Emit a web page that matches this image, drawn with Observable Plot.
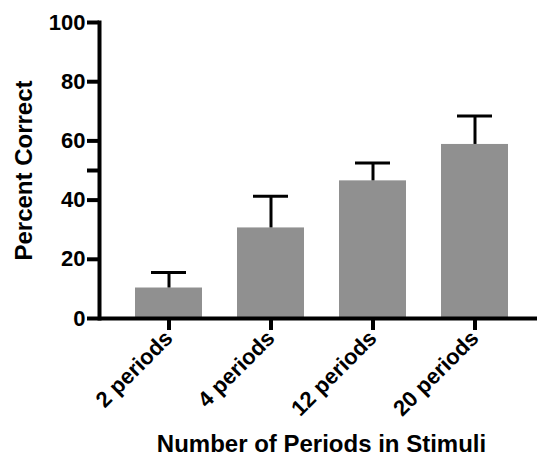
<!DOCTYPE html>
<html><head><meta charset="utf-8">
<script src="https://cdn.jsdelivr.net/npm/d3@7"></script>
<script src="https://cdn.jsdelivr.net/npm/@observablehq/plot@0.6"></script>
<style>body{margin:0;background:#fff}</style>
</head><body><div id="chart"></div>
<script>
const categories = ["2 periods", "4 periods", "12 periods", "20 periods"];
const means = [10.3, 30.6, 46.5, 58.8];
const errors = [5.2, 10.7, 6.0, 9.6];
const yTicks = [0, 20, 40, 50, 60, 80, 100];
const xTitle = "Number of Periods in Stimuli";
const yTitle = "Percent Correct";

const data = categories.map((c, i) => ({c, m: means[i], hi: means[i] + errors[i]}));

const chart = Plot.plot({
  width: 539, height: 462,
  marginLeft: 99, marginRight: 2, marginTop: 22, marginBottom: 144,
  style: {fontFamily: "'Liberation Sans', Arial, sans-serif", fontWeight: "bold", color: "#000", background: "#fff"},
  x: {domain: categories, range: [99, 545], paddingInner: 0.34, paddingOuter: 0.34},
  y: {domain: [0, 100]},
  marks: [
    Plot.barY(data, {x: "c", y: "m", fill: "#909090"}),
    Plot.ruleX(data, {x: "c", y1: "m", y2: "hi", stroke: "#000", strokeWidth: 3}),
    Plot.tickY(data, {x: "c", y: "hi", stroke: "#000", strokeWidth: 3, insetLeft: 16, insetRight: 16}),
    Plot.axisY({ticks: yTicks, tickFormat: d => d === 50 ? "" : String(d), tickSize: 12, tickPadding: 2, strokeWidth: 4, fontSize: 22, label: null}),
    Plot.axisX({tickSize: 12, tickPadding: 4, strokeWidth: 4, tickRotate: -45, fontSize: 22, label: null}),
    Plot.ruleY([0], {stroke: "#000", strokeWidth: 4}),
    Plot.frame({anchor: "left", stroke: "#000", strokeWidth: 4}),
    Plot.text([yTitle], {frameAnchor: "left", textAnchor: "middle", rotate: -90, dx: -75, fontSize: 24, fill: "#000"}),
    Plot.text([xTitle], {frameAnchor: "bottom", dx: 3, dy: 133, fontSize: 24, fill: "#000"})
  ]
});
document.getElementById("chart").appendChild(chart);
</script>
</body></html>
